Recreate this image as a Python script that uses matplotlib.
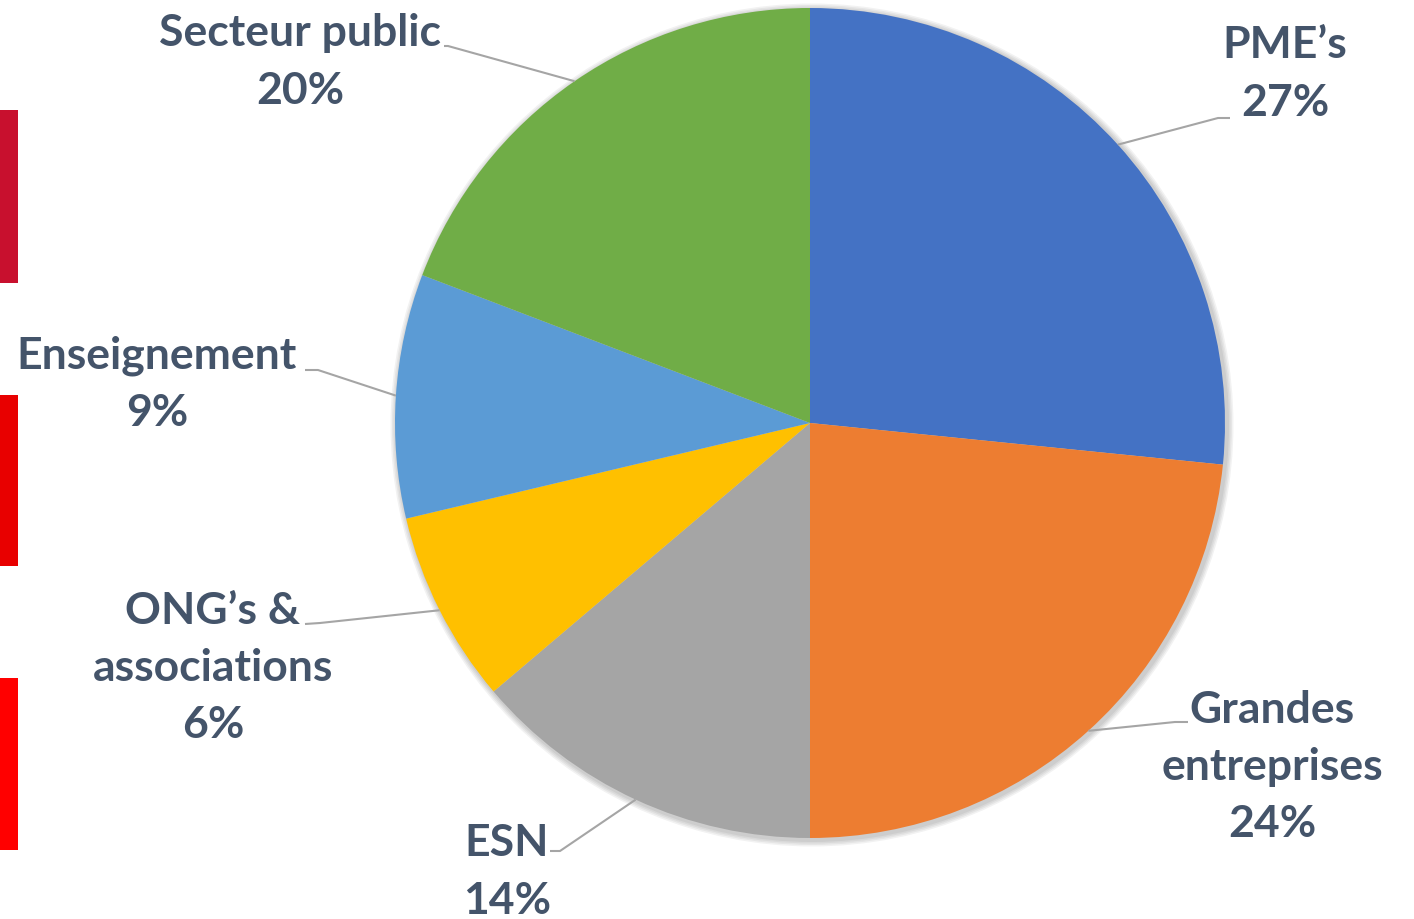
import numpy as np
import matplotlib
matplotlib.use("Agg")
import matplotlib.pyplot as plt
from matplotlib.patches import Circle, Rectangle

# ---- data ----
categories = ["PME’s", "Grandes\nentreprises", "ESN", "ONG’s &\nassociations", "Enseignement", "Secteur public"]
values = [26.6, 23.4, 13.8, 7.5, 9.5, 19.2]
pct_labels = ["27%", "24%", "14%", "6%", "9%", "20%"]
colors = ["#4472C4", "#ED7D31", "#A5A5A5", "#FFC000", "#5B9BD5", "#70AD47"]

# ---- layout (pixel coordinates, y from top) ----
W, H = 1414, 919
cx, cy, R = 810, 423, 415
label_pos = [(1285, 74), (1272, 767), (507, 872), (213, 668), (157, 384), (300, 62)]
leader_elbow = [(1218, 118), (1175, 722), (560, 851), (320, 623), (318, 370), (448, 46)]
leader_end = [(1230, 118), (1188, 722), (550, 851), (305, 624), (305, 370), (444, 46)]
text_color = "#44546A"
bars = [(110, 283, "#C8102E"), (395, 566, "#E80000"), (678, 850, "#FF0000")]

plt.rcParams['font.family'] = ['Lato', 'DejaVu Sans']
fig = plt.figure(figsize=(W / 100, H / 100), dpi=100)
ax = fig.add_axes([0, 0, 1, 1])

def fy(y):
    return H - y

# soft shadow
for i in range(4):
    ax.add_patch(Circle((cx + 2, fy(cy) - 2), R + 2 + i * 1.5, color="#000000", alpha=0.05, lw=0, zorder=1))

wedges, _ = ax.pie(values, colors=colors, startangle=90, counterclock=False,
                   center=(cx, fy(cy)), radius=R, frame=True,
                   wedgeprops=dict(linewidth=0, zorder=2))
ax.set_xlim(0, W)
ax.set_ylim(0, H)
ax.set_aspect('equal')
ax.axis('off')

total = sum(values)
cum = 0
for i, v in enumerate(values):
    mid = 90 - (cum + v / 2) / total * 360
    cum += v
    sx = cx + R * np.cos(np.radians(mid))
    sy = fy(cy) + R * np.sin(np.radians(mid))
    ex, ey = leader_elbow[i]
    tx, ty = leader_end[i]
    ax.plot([sx, ex, tx], [sy, fy(ey), fy(ty)], color="#A5A5A5", lw=1.5, zorder=3,
            solid_capstyle='butt')
    lx, ly = label_pos[i]
    ax.text(lx, fy(ly), categories[i] + "\n" + pct_labels[i], ha='center', va='center',
            fontsize=32, fontweight='bold', color=text_color, linespacing=1.53, zorder=4)

for y0, y1, c in bars:
    ax.add_patch(Rectangle((0, fy(y1)), 18, y1 - y0, color=c, lw=0, zorder=5))

fig.savefig("out.png", dpi=100)
